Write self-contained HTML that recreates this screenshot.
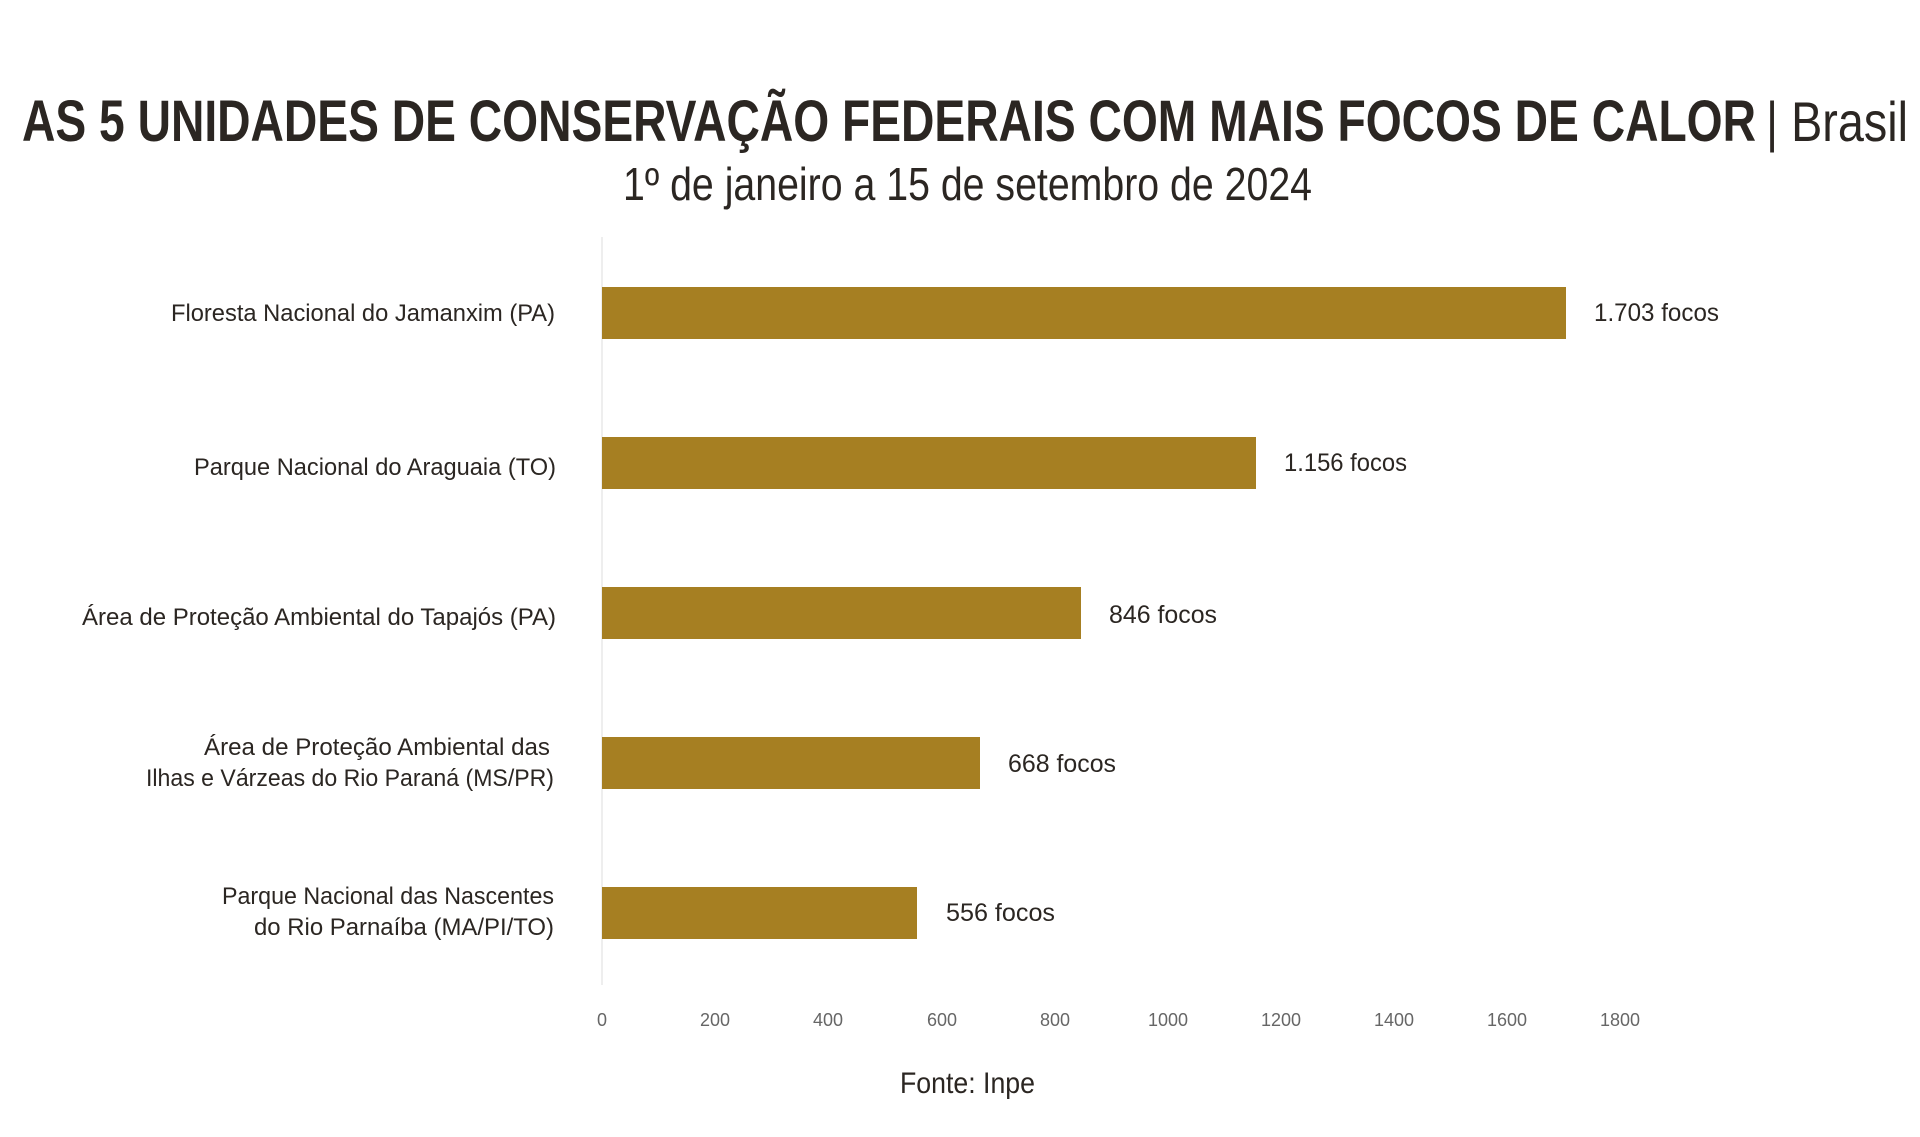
<!DOCTYPE html>
<html><head><meta charset="utf-8"><style>
html,body{margin:0;padding:0;background:#fff;}
svg{display:block;}
text{font-family:"Liberation Sans",sans-serif;fill:#2b2622;}
</style></head><body>
<svg width="1920" height="1137" viewBox="0 0 1920 1137" xmlns="http://www.w3.org/2000/svg">
<rect width="1920" height="1137" fill="#fff"/>
<text x="22" y="141" font-size="58" font-weight="bold" textLength="1734" lengthAdjust="spacingAndGlyphs">AS 5 UNIDADES DE CONSERVAÇÃO FEDERAIS COM MAIS FOCOS DE CALOR</text>
<text x="1766" y="141" font-size="56" textLength="142" lengthAdjust="spacingAndGlyphs">| Brasil</text>
<text x="623" y="200" font-size="46" textLength="689" lengthAdjust="spacingAndGlyphs">1º de janeiro a 15 de setembro de 2024</text>
<line x1="602" y1="237" x2="602" y2="985" stroke="#eeeeee" stroke-width="2"/>
<g fill="#a67f22">
<rect x="602" y="287" width="964" height="52"/>
<rect x="602" y="437" width="654" height="52"/>
<rect x="602" y="587" width="479" height="52"/>
<rect x="602" y="737" width="378" height="52"/>
<rect x="602" y="887" width="315" height="52"/>
</g>
<g font-size="24">
<text x="171" y="321" textLength="384" lengthAdjust="spacingAndGlyphs">Floresta Nacional do Jamanxim (PA)</text>
<text x="194" y="475" textLength="362" lengthAdjust="spacingAndGlyphs">Parque Nacional do Araguaia (TO)</text>
<text x="82" y="625" textLength="474" lengthAdjust="spacingAndGlyphs">Área de Proteção Ambiental do Tapajós (PA)</text>
<text x="204" y="755" textLength="346" lengthAdjust="spacingAndGlyphs">Área de Proteção Ambiental das</text>
<text x="146" y="786" textLength="408" lengthAdjust="spacingAndGlyphs">Ilhas e Várzeas do Rio Paraná (MS/PR)</text>
<text x="222" y="904" textLength="332" lengthAdjust="spacingAndGlyphs">Parque Nacional das Nascentes</text>
<text x="254" y="935" textLength="300" lengthAdjust="spacingAndGlyphs">do Rio Parnaíba (MA/PI/TO)</text>
</g>
<g font-size="25">
<text x="1594" y="321" textLength="125" lengthAdjust="spacingAndGlyphs">1.703 focos</text>
<text x="1284" y="471" textLength="123" lengthAdjust="spacingAndGlyphs">1.156 focos</text>
<text x="1109" y="623" textLength="108" lengthAdjust="spacingAndGlyphs">846 focos</text>
<text x="1008" y="772" textLength="108" lengthAdjust="spacingAndGlyphs">668 focos</text>
<text x="946" y="921" textLength="109" lengthAdjust="spacingAndGlyphs">556 focos</text>
</g>
<g font-size="18" text-anchor="middle" style="fill:#666">
<text x="602" y="1026" style="fill:#666">0</text>
<text x="715" y="1026" style="fill:#666">200</text>
<text x="828" y="1026" style="fill:#666">400</text>
<text x="942" y="1026" style="fill:#666">600</text>
<text x="1055" y="1026" style="fill:#666">800</text>
<text x="1168" y="1026" style="fill:#666">1000</text>
<text x="1281" y="1026" style="fill:#666">1200</text>
<text x="1394" y="1026" style="fill:#666">1400</text>
<text x="1507" y="1026" style="fill:#666">1600</text>
<text x="1620" y="1026" style="fill:#666">1800</text>
</g>
<text x="900" y="1093" font-size="30" textLength="135" lengthAdjust="spacingAndGlyphs">Fonte: Inpe</text>
</svg>
</body></html>
